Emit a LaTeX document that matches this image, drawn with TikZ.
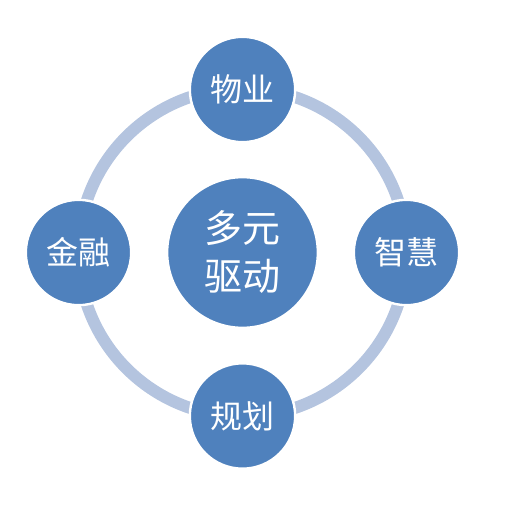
\documentclass[tikz,border=0pt]{standalone}
\usepackage{fontspec}
\newfontfamily\cjk{Noto Sans CJK SC}
\usetikzlibrary{positioning}
\definecolor{OfficeBlue}{RGB}{79,129,189}
\definecolor{RingBlue}{RGB}{180,196,223}
\tikzset{
  ringline/.style={draw=RingBlue,line width=9pt},
  hubnode/.style={circle,fill=OfficeBlue,draw=white,line width=1.8pt,inner sep=0pt,
    minimum size=113pt,align=center,text=white,font=\cjk\fontsize{28.5}{36}\selectfont},
  spokenode/.style={circle,fill=OfficeBlue,draw=white,line width=1.8pt,inner sep=0pt,
    minimum size=79pt,align=center,text=white,font=\cjk\fontsize{24}{28}\selectfont}
}

\begin{document}
\begin{tikzpicture}[x=0.75pt,y=-0.75pt]
  \useasboundingbox (0,0) rectangle (506,506);
  \coordinate (hub) at (242.5,252.5);
  \draw[ringline] (hub) circle (164);
  \node[hubnode] (core) at (hub) {多元\\驱动};
  \node[spokenode] (wuye) at (242.5,89.5) {物业};
  \node[spokenode] (zhihui) at (406.5,252.5) {智慧};
  \node[spokenode] (guihua) at (242.5,416) {规划};
  \node[spokenode] (jinrong) at (78.5,252.5) {金融};
\end{tikzpicture}
\end{document}
